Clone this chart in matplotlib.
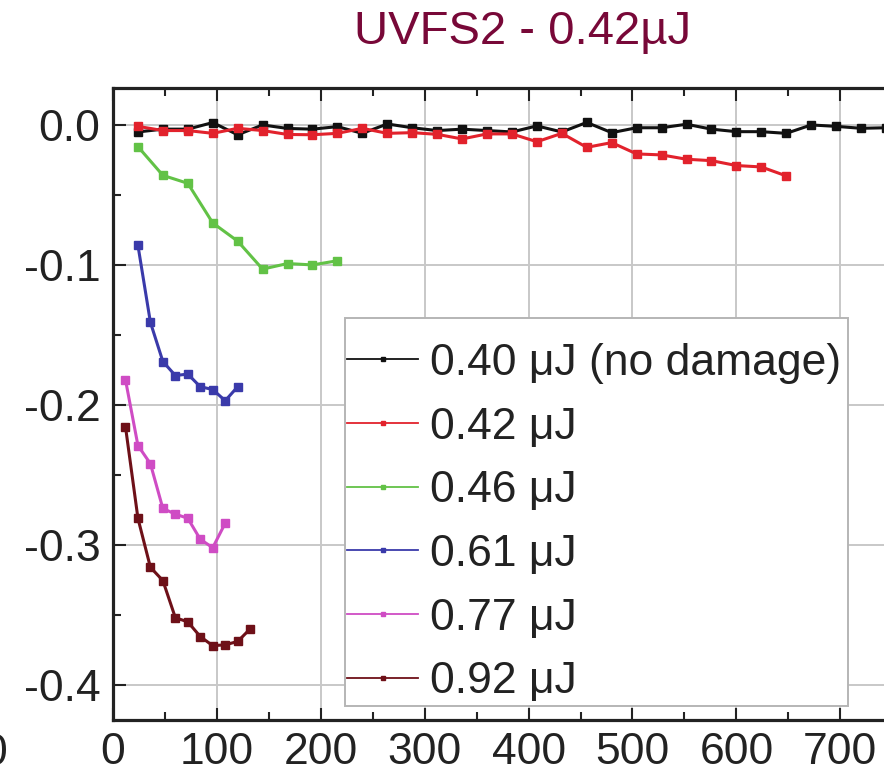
# UVFS2 damage test: relative signal change vs. shot number for several pulse energies
import matplotlib.pyplot as plt
from matplotlib.patches import Rectangle
from matplotlib.ticker import MultipleLocator, FixedLocator

plt.rcParams["font.family"] = ["Liberation Sans", "DejaVu Sans"]
plt.rcParams["axes.unicode_minus"] = False

# Data
x_040 = [24, 48, 72, 96, 120, 144, 168, 192, 216, 240, 264, 288, 312, 336, 360,
         384, 408, 432, 456, 480, 504, 528, 552, 576, 600, 624, 648, 672, 696,
         720, 744]
y_040 = [-0.005, -0.003, -0.003, 0.0017, -0.007, 0.0, -0.0025, -0.003, -0.0012,
         -0.006, 0.0007, -0.002, -0.004, -0.003, -0.004, -0.005, -0.0007,
         -0.005, 0.0018, -0.0055, -0.002, -0.002, 0.0005, -0.003, -0.0048,
         -0.0048, -0.006, 0.0, -0.001, -0.0024, -0.002]

x_042 = [24, 48, 72, 96, 120, 144, 168, 192, 216, 240, 264, 288, 312, 336, 360,
         384, 408, 432, 456, 480, 504, 528, 552, 576, 600, 624, 648]
y_042 = [-0.001, -0.004, -0.004, -0.006, -0.0024, -0.004, -0.0068, -0.007,
         -0.006, -0.0024, -0.006, -0.0055, -0.0067, -0.010, -0.0064, -0.0064,
         -0.012, -0.006, -0.016, -0.0126, -0.0207, -0.0214, -0.0245, -0.0255,
         -0.029, -0.030, -0.0364]

x_046 = [24, 48, 72, 96, 120, 144, 168, 192, 216]
y_046 = [-0.0155, -0.036, -0.0417, -0.070, -0.083, -0.103, -0.099, -0.100, -0.097]

x_061 = [24, 36, 48, 60, 72, 84, 96, 108, 120]
y_061 = [-0.086, -0.141, -0.169, -0.179, -0.178, -0.187, -0.189, -0.197, -0.187]

x_077 = [12, 24, 36, 48, 60, 72, 84, 96, 108]
y_077 = [-0.182, -0.229, -0.242, -0.274, -0.278, -0.281, -0.296, -0.302, -0.2845]

x_092 = [12, 24, 36, 48, 60, 72, 84, 96, 108, 120, 132]
y_092 = [-0.2155, -0.281, -0.316, -0.3255, -0.352, -0.355, -0.3655, -0.372,
         -0.3714, -0.369, -0.360]

labels = ["0.40 μJ (no damage)", "0.42 μJ", "0.46 μJ", "0.61 μJ", "0.77 μJ",
          "0.92 μJ"]
colors = ["#111111", "#e2222c", "#62c246", "#3a3aaa", "#cf4cc4", "#6e1018"]
x_ticks = [0, 100, 200, 300, 400, 500, 600, 700]
y_ticks = [0.0, -0.1, -0.2, -0.3, -0.4]

# Plotting
fig = plt.figure(figsize=(8.84, 7.75), dpi=100)
ax = fig.add_axes([113 / 884, 55 / 775, 800 / 884, 632 / 775])

series = [(x_040, y_040), (x_042, y_042), (x_046, y_046), (x_061, y_061),
          (x_077, y_077), (x_092, y_092)]
for (xs, ys), label, color in zip(series, labels, colors):
    ax.plot(xs, ys, color=color, linewidth=2.2, marker="s", markersize=5.5,
            label=label, zorder=3)

ax.set_xlim(0, 770)
ax.set_ylim(-0.4251, 0.0264)

ax.xaxis.set_major_locator(FixedLocator(x_ticks))
ax.xaxis.set_minor_locator(MultipleLocator(50))
ax.yaxis.set_major_locator(FixedLocator(y_ticks))
ax.yaxis.set_minor_locator(MultipleLocator(0.05))
ax.set_xticklabels([str(t) for t in x_ticks])
ax.set_yticklabels([f"{t:.1f}".replace("-0.0", "0.0") for t in y_ticks])

ax.grid(True, which="major", color="#c8c8c8", linewidth=1.4, zorder=0)
ax.set_axisbelow(True)

ax.tick_params(which="both", direction="in", top=True, right=True,
               labelsize=32, colors="#222222", width=1.5)
ax.tick_params(which="major", length=9)
ax.tick_params(which="minor", length=6)
ax.tick_params(axis="x", pad=9)
ax.tick_params(axis="y", pad=9)
for spine in ax.spines.values():
    spine.set_linewidth(2.3)
    spine.set_color("#222222")

# legend box drawn separately so the entries can sit low inside it
box = Rectangle((345 / 884, 1 - 706 / 775), 503 / 884, 388 / 775,
                transform=fig.transFigure, facecolor="white",
                edgecolor="#b5b5b5", linewidth=1.4, zorder=4)
fig.add_artist(box)

leg = fig.legend(loc="upper left", bbox_to_anchor=(347 / 884, 1 - 343 / 775),
                 fontsize=32, frameon=False, borderpad=0, borderaxespad=0,
                 handlelength=1.6, handletextpad=0.27, labelspacing=0.51,
                 markerscale=0.6)
leg.set_zorder(5)
for h in leg.legend_handles:
    h.set_linewidth(1.3)
for t in leg.get_texts():
    t.set_color("#222222")

fig.text(523 / 884, 1 - 44 / 775, "UVFS2 - 0.42µJ", fontsize=34,
         color="#780838", ha="center", va="baseline")
# neighbouring panel's axis label peeking in at the left edge
fig.text(7 / 884, 10 / 775, "0", fontsize=32, color="#222222", ha="right",
         va="baseline")

fig.savefig("out.png", dpi=100)
